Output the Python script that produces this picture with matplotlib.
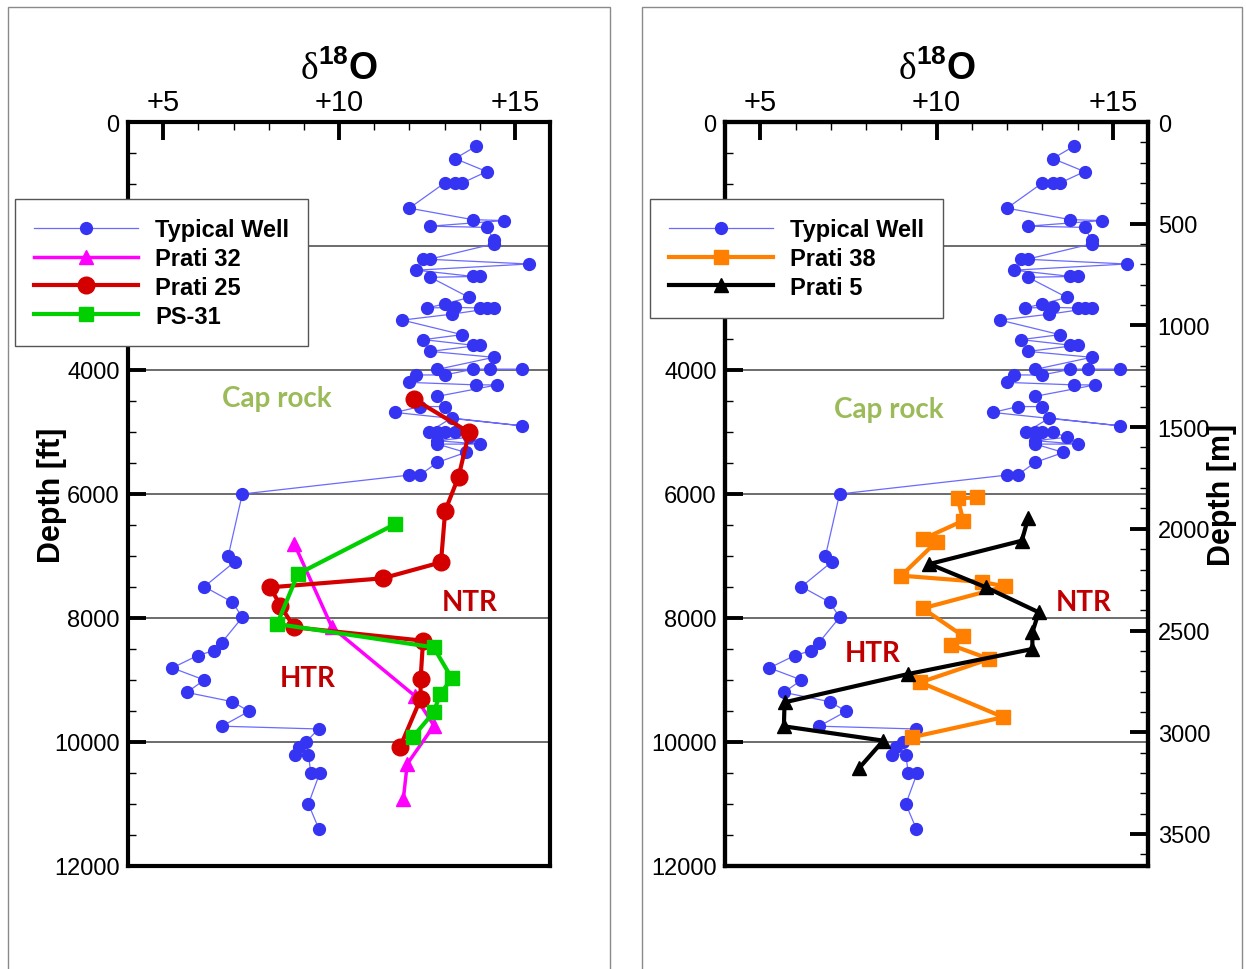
'''
Oxygen isotope (d18O) profiles against depth for the Prati wells.
'''
# imports
import matplotlib.pyplot as plt
from matplotlib.patches import Rectangle
from matplotlib.ticker import MultipleLocator

plt.rcParams['font.family'] = ['Liberation Sans', 'DejaVu Sans']
plt.rcParams['mathtext.fontset'] = 'custom'
plt.rcParams['mathtext.rm'] = 'Liberation Serif'
plt.rcParams['mathtext.bf'] = 'Liberation Sans:bold'

# data (d18O value, depth in ft)
typical_x = [13.9, 13.3, 14.2, 13.5, 13.3, 13.0, 12.0, 13.8, 14.7, 12.6, 14.2,
             14.4, 14.4, 12.6, 12.4, 15.4, 12.2, 13.8, 14.0, 12.6, 13.7, 13.0,
             12.5, 13.3, 14.0, 14.2, 14.4, 13.2, 11.8, 13.5, 12.4, 13.8, 14.0,
             12.6, 14.4, 12.8, 15.2, 14.3, 13.8, 13.0, 12.2, 12.0, 13.9, 14.5,
             12.8, 13.0, 12.3, 11.6, 15.2, 13.2, 12.55, 12.8, 13.0, 13.3, 13.7,
             12.8, 14.0, 12.8, 13.6, 12.8, 12.3, 12.0,
             7.25, 6.85, 7.04, 6.17, 6.97, 7.25, 6.66, 6.45, 5.98, 5.26, 6.17,
             5.67, 6.97, 7.44, 6.67, 9.42, 9.05, 8.85, 8.75, 9.13, 9.2, 9.45,
             9.13, 9.43]
typical_depth = [390, 590, 800, 985, 985, 985, 1390, 1575, 1590, 1680, 1700,
                 1900, 1965, 2210, 2210, 2290, 2390, 2490, 2490, 2505, 2830, 2935,
                 3000, 2990, 3000, 3000, 3000, 3100, 3195, 3430, 3510, 3600, 3600,
                 3700, 3795, 3990, 3990, 3990, 3990, 4080, 4080, 4200, 4240, 4240,
                 4425, 4590, 4590, 4685, 4900, 4775, 5000, 5000, 5000, 5000, 5085,
                 5140, 5195, 5195, 5330, 5490, 5695, 5695,
                 6000, 7000, 7090, 7495, 7745, 7990, 8400, 8525, 8605, 8805, 9000,
                 9200, 9350, 9505, 9745, 9790, 10005, 10085, 10210, 10205, 10505, 10505,
                 11000, 11405]

prati32_x = [8.73, 9.8, 12.15, 12.7, 11.94, 11.83]
prati32_depth = [6806, 8150, 9253, 9735, 10355, 10919]

prati25_x = [12.13, 13.7, 13.4, 13.02, 12.9, 11.24, 8.05, 8.33, 8.73, 12.39, 12.32, 12.32, 11.74]
prati25_depth = [4468, 5005, 5720, 6269, 7102, 7360, 7505, 7801, 8150, 8366, 8984, 9306, 10075]

ps31_x = [11.6, 8.83, 8.24, 12.69, 13.21, 12.88, 12.69, 12.11]
ps31_depth = [6484, 7290, 8097, 8473, 8973, 9226, 9521, 9914]

prati38_x = [11.16, 10.6, 10.76, 9.62, 10.0, 9.0, 11.3, 11.95, 9.61, 10.74, 10.41, 11.5, 9.54, 11.9, 9.3]
prati38_depth = [6054, 6070, 6430, 6725, 6768, 7317, 7420, 7490, 7844, 8285, 8435, 8661, 9038, 9600, 9924]

prati5_x = [12.6, 12.42, 9.8, 11.4, 12.9, 12.72, 12.72, 9.2, 5.69, 5.67, 8.49, 7.8]
prati5_depth = [6392, 6753, 7129, 7505, 7908, 8231, 8500, 8903, 9360, 9747, 9978, 10424]

d18o_ticks = [5, 10, 15]
d18o_labels = ['+5', '+10', '+15']
depth_ticks = [0, 2000, 4000, 6000, 8000, 10000, 12000]
meter_ticks = [0, 500, 1000, 1500, 2000, 2500, 3000, 3500]

FT_TO_M = 0.3048
W, H = 1246, 970


def setup_axes(ax):
    '''
    Common look of both panels.
    '''
    ax.set_xlim(4, 16)
    ax.set_ylim(12000, 0)
    ax.xaxis.tick_top()
    ax.xaxis.set_label_position('top')
    ax.set_xticks(d18o_ticks)
    ax.set_xticklabels(d18o_labels)
    ax.xaxis.set_minor_locator(MultipleLocator(1))
    ax.set_yticks(depth_ticks)
    ax.yaxis.set_minor_locator(MultipleLocator(500))
    ax.tick_params(which='both', direction='in', top=True, bottom=False,
                   left=True, right=False)
    ax.tick_params(which='major', length=13, width=2.8)
    ax.tick_params(which='minor', length=6, width=1)
    ax.tick_params(axis='x', labelsize=21, pad=4)
    ax.tick_params(axis='y', labelsize=17, pad=6)
    for sp in ax.spines.values():
        sp.set_linewidth(3)
    ax.set_axisbelow(True)
    ax.grid(axis='y', which='major', color='#606060', lw=1.3)
    ax.set_xlabel(r'$\mathrm{\delta}^{\mathbf{18}}\mathbf{O}$', fontsize=27, labelpad=7)


def typical_well(ax):
    return ax.plot(typical_x, typical_depth, '-o', color='#6a6aff', lw=0.9,
                   ms=8.5, mfc='#3434f2', mec='#3434f2', label='Typical Well')[0]


def add_legend(handles, x0, y0):
    fig.legend(handles=handles, loc='upper left',
               bbox_to_anchor=(x0 / W, 1 - y0 / H), bbox_transform=fig.transFigure,
               borderaxespad=0, prop={'weight': 'bold', 'size': 17},
               handlelength=4.4, handletextpad=0.75, labelspacing=0.25,
               borderpad=0.8, fancybox=False, framealpha=1, edgecolor='#555555')


fig = plt.figure(figsize=(W / 100, H / 100), dpi=100)

# panel borders
for x0, x1 in [(8, 610), (642, 1242)]:
    fig.add_artist(Rectangle((x0 / W, -0.01), (x1 - x0) / W, (H - 8) / H + 0.01,
                             transform=fig.transFigure, fill=False,
                             edgecolor='#8a8a8a', lw=1))

ax1 = fig.add_axes([128 / W, 103 / H, 422 / W, 744 / H])
ax2 = fig.add_axes([725 / W, 103 / H, 423 / W, 744 / H])
setup_axes(ax1)
setup_axes(ax2)
ax1.set_ylabel('Depth [ft]', fontsize=22, fontweight='bold', labelpad=-9)

# left panel
h_typ = typical_well(ax1)
h32, = ax1.plot(prati32_x, prati32_depth, '-^', color='#ff00ff', lw=2.5, ms=10,
                label='Prati 32')
h25, = ax1.plot(prati25_x, prati25_depth, '-o', color='#d40000', lw=3, ms=12,
                label='Prati 25')
h31, = ax1.plot(ps31_x, ps31_depth, '-s', color='#00d000', lw=3, ms=9.5,
                label='PS-31')
add_legend([h_typ, h32, h25, h31], 15, 200)

# right panel
h_typ2 = typical_well(ax2)
h38, = ax2.plot(prati38_x, prati38_depth, '-s', color='#ff8000', lw=3, ms=10,
                label='Prati 38')
h5, = ax2.plot(prati5_x, prati5_depth, '-^', color='black', lw=3, ms=10,
               label='Prati 5')
add_legend([h_typ2, h38, h5], 650, 200)

# meters on the right of the second panel
axm = ax2.twinx()
axm.set_ylim(12000 * FT_TO_M, 0)
axm.set_yticks(meter_ticks)
axm.yaxis.set_minor_locator(MultipleLocator(100))
axm.tick_params(which='both', direction='in', labelsize=17, pad=7)
axm.tick_params(which='major', length=13, width=2.8)
axm.tick_params(which='minor', length=6, width=1)
for sp in axm.spines.values():
    sp.set_linewidth(3)
axm.set_ylabel('Depth [m]', fontsize=22, fontweight='bold', labelpad=-2)

# zone labels
zone_font = {'family': ['Lato', 'DejaVu Sans'], 'weight': 'bold', 'size': 20}
ax1.text(8.23, 4452, 'Cap rock', color='#9bbb59', ha='center', va='center', **zone_font)
ax1.text(13.72, 7742, 'NTR', color='#c00000', ha='center', va='center', **zone_font)
ax1.text(9.1, 8968, 'HTR', color='#c00000', ha='center', va='center', **zone_font)
ax2.text(8.65, 4629, 'Cap rock', color='#9bbb59', ha='center', va='center', **zone_font)
ax2.text(14.17, 7742, 'NTR', color='#c00000', ha='center', va='center', **zone_font)
ax2.text(8.18, 8565, 'HTR', color='#c00000', ha='center', va='center', **zone_font)

plt.savefig('out.png', dpi=100)
